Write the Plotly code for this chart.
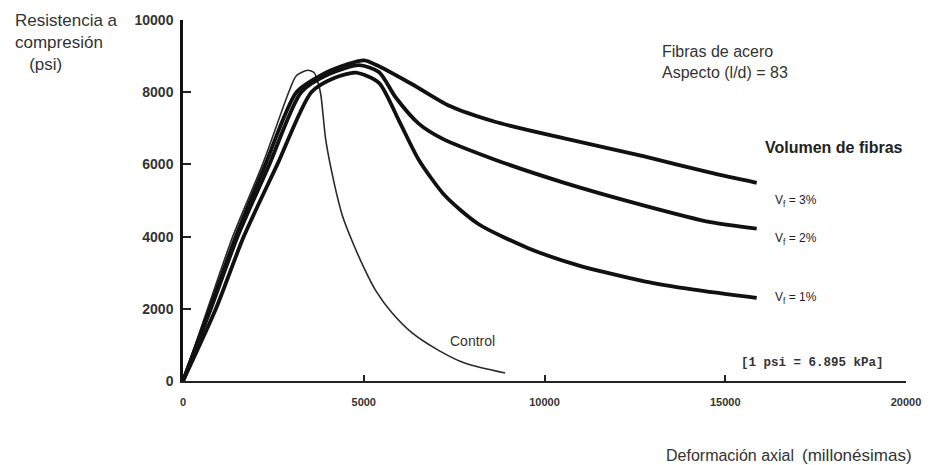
import plotly.graph_objects as go

# ---- data ----
control_strain = [0, 680, 1375, 2200, 2940, 3130, 3450, 3630, 3720, 3810, 3950, 4180, 4410, 4690, 5000, 5340, 5780, 6330, 7070, 7810, 8910]
control_stress = [0, 2000, 4000, 6000, 8040, 8450, 8610, 8540, 8310, 7950, 6670, 5490, 4580, 3850, 3150, 2490, 1890, 1340, 850, 490, 220]

vf3_strain = [0, 740, 1460, 2280, 3140, 3950, 4500, 5010, 5420, 6340, 7350, 8630, 10550, 12760, 14590, 15870]
vf3_stress = [0, 2000, 4000, 6000, 8000, 8540, 8760, 8880, 8720, 8220, 7630, 7180, 6720, 6220, 5770, 5490]

vf2_strain = [0, 770, 1510, 2390, 3270, 4040, 4870, 5420, 5880, 6520, 7160, 8630, 10550, 12760, 14590, 15870]
vf2_stress = [0, 2000, 4000, 6000, 8000, 8500, 8750, 8560, 7860, 7130, 6720, 6130, 5490, 4860, 4400, 4220]

vf1_strain = [0, 910, 1680, 2610, 3550, 4200, 4780, 5420, 5970, 6520, 7250, 8170, 9550, 10910, 12760, 14130, 15870]
vf1_stress = [0, 2000, 4000, 6000, 8000, 8400, 8540, 8260, 7220, 6130, 5130, 4350, 3680, 3210, 2760, 2530, 2300]

x_ticks = [0, 5000, 10000, 15000, 20000]
y_ticks = [0, 2000, 4000, 6000, 8000, 10000]

vf_labels = ["V<sub>f</sub> = 3%", "V<sub>f</sub> = 2%", "V<sub>f</sub> = 1%"]
vf_label_y = [5000, 3930, 2300]

fig = go.Figure()

fig.add_trace(go.Scatter(x=control_strain, y=control_stress, mode="lines",
                         line=dict(color="#2a2a2a", width=1.6, shape="spline", smoothing=0.7),
                         showlegend=False, hoverinfo="skip"))
for xs, ys in [(vf3_strain, vf3_stress), (vf2_strain, vf2_stress), (vf1_strain, vf1_stress)]:
    fig.add_trace(go.Scatter(x=xs, y=ys, mode="lines",
                             line=dict(color="#111111", width=3.8, shape="spline", smoothing=0.7),
                             showlegend=False, hoverinfo="skip"))

ann = []
for lab, yy in zip(vf_labels, vf_label_y):
    ann.append(dict(x=16310, y=yy, xref="x", yref="y", text=lab, showarrow=False,
                    xanchor="left", yanchor="middle",
                    font=dict(family="Liberation Sans", size=12, color="#222")))

ann += [
    dict(x=16040, y=6480, xref="x", yref="y", text="<b>Volumen de fibras</b>", showarrow=False,
         xanchor="left", yanchor="middle", font=dict(family="Liberation Sans", size=16, color="#222")),
    dict(x=13200, y=8840, xref="x", yref="y", text="Fibras de acero<br>Aspecto (l/d) = 83", showarrow=False,
         xanchor="left", yanchor="middle", align="left",
         font=dict(family="Liberation Sans", size=16, color="#333")),
    dict(x=8000, y=1100, xref="x", yref="y", text="Control", showarrow=False,
         xanchor="center", yanchor="middle", font=dict(family="Liberation Sans", size=14, color="#333")),
    dict(x=17400, y=490, xref="x", yref="y", text="<b>[1 psi = 6.895 kPa]</b>", showarrow=False,
         xanchor="center", yanchor="middle", font=dict(family="Liberation Mono", size=12.5, color="#333")),
    dict(x=-0.235, y=1.03, xref="paper", yref="paper",
         text="Resistencia a<br>compresión<br>   (psi)", showarrow=False, align="left",
         xanchor="left", yanchor="top", font=dict(family="Liberation Sans", size=17, color="#333")),
    dict(x=0.665, y=-0.205, xref="paper", yref="paper", text="Deformación axial", showarrow=False,
         xanchor="left", yanchor="middle", font=dict(family="Liberation Sans", size=16, color="#333")),
    dict(x=0.854, y=-0.205, xref="paper", yref="paper", text="(millonésimas)", showarrow=False,
         xanchor="left", yanchor="middle", font=dict(family="Liberation Sans", size=17, color="#333")),
]

fig.update_layout(
    width=933, height=465,
    margin=dict(l=183, r=23, t=15, b=84),
    paper_bgcolor="white", plot_bgcolor="white",
    annotations=ann,
    xaxis=dict(range=[0, 20000], tickvals=x_ticks, ticktext=[str(v) for v in x_ticks],
               showgrid=False, zeroline=False, showline=True, linecolor="#222", linewidth=2,
               ticks="inside", ticklen=6, tickwidth=2, tickcolor="#222",
               ticklabelstandoff=10,
               tickfont=dict(family="Liberation Sans", size=11, color="#333", weight="bold")),
    yaxis=dict(range=[0, 10000], tickvals=y_ticks, ticktext=[str(v) for v in y_ticks],
               showgrid=False, zeroline=False, showline=True, linecolor="#111", linewidth=2.5,
               ticks="inside", ticklen=8, tickwidth=2, tickcolor="#222",
               ticklabelstandoff=4,
               tickfont=dict(family="Liberation Sans", size=14, color="#333", weight="bold")),
)

fig.write_html("out.html", config={"displayModeBar": False},
               post_script="document.body.style.margin='0';document.body.style.overflow='hidden';")
